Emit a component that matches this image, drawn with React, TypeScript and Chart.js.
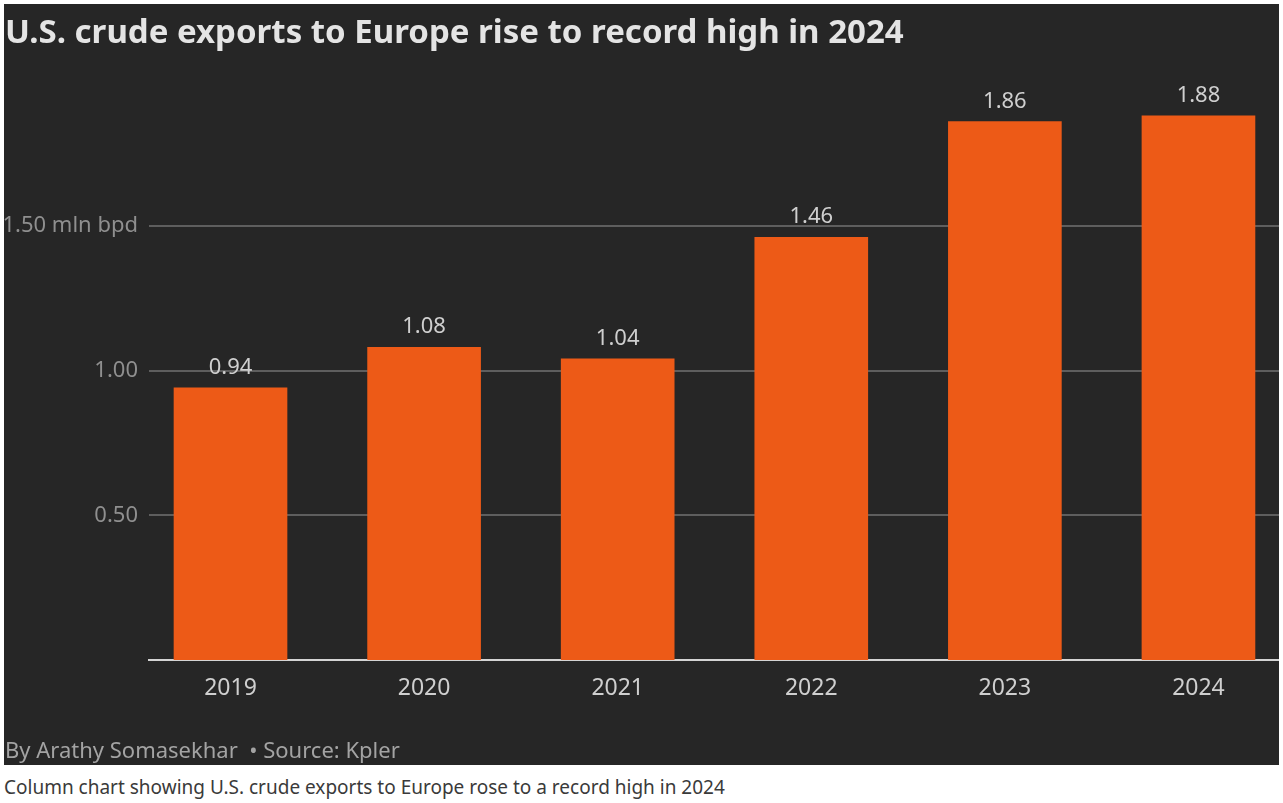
import React, { useEffect, useRef } from "react";
import { Chart, registerables } from "chart.js";

Chart.register(...registerables);

const years = ["2019", "2020", "2021", "2022", "2023", "2024"];
const exportsMlnBpd = [0.94, 1.08, 1.04, 1.46, 1.86, 1.88];
const yTickValues = [0.5, 1.0, 1.5];
const yTickLabels = ["0.50", "1.00", "1.50 mln bpd"];

const titleText = "U.S. crude exports to Europe rise to record high in 2024";
const footerText = "By Arathy Somasekhar\u00a0 \u2022 Source: Kpler";
const captionText =
  "Column chart showing U.S. crude exports to Europe rose to a record high in 2024";

const FONT = "'Noto Sans', 'DejaVu Sans', sans-serif";
const BG = "#262626";
const BAR = "#ed5a17";

const valueLabels = {
  id: "valueLabels",
  afterDatasetsDraw(chart: any) {
    const ctx = chart.ctx;
    const meta = chart.getDatasetMeta(0);
    ctx.save();
    ctx.font = `400 22px ${FONT}`;
    ctx.fillStyle = "#cfcfcf";
    ctx.textAlign = "center";
    ctx.textBaseline = "alphabetic";
    meta.data.forEach((bar: any, i: number) => {
      ctx.fillText(exportsMlnBpd[i].toFixed(2), bar.x, bar.y - 14);
    });
    ctx.restore();
  },
};

export default function App() {
  const canvasRef = useRef<HTMLCanvasElement | null>(null);

  useEffect(() => {
    const canvas = canvasRef.current;
    if (!canvas) return;
    const chart = new Chart(canvas, {
      type: "bar",
      data: {
        datasets: [
          {
            data: exportsMlnBpd.map((v, i) => ({ x: i, y: v })),
            backgroundColor: BAR,
            borderWidth: 0,
            barThickness: 113,
          },
        ],
      },
      options: {
        responsive: false,
        animation: false,
        layout: { padding: { top: 77, right: 0, bottom: 0, left: 0 } },
        plugins: {
          legend: { display: false },
          tooltip: { enabled: false },
          title: { display: false },
        },
        scales: {
          x: {
            type: "linear",
            min: -0.421,
            max: 5.416,
            bounds: "data",
            offset: false,
            grid: { display: false, drawTicks: false, offset: false },
            border: { display: true, color: "#d4d4d4", width: 2 },
            afterBuildTicks: (scale: any) => {
              scale.ticks = years.map((_, i) => ({ value: i }));
            },
            afterDataLimits: (scale: any) => {
              scale.min = -0.421;
              scale.max = 5.416;
            },
            afterFit: (scale: any) => {
              scale.height = 105;
            },
            ticks: {
              color: "#cfcfcf",
              font: { family: FONT, size: 23 },
              padding: 15,
              autoSkip: false,
              maxRotation: 0,
              includeBounds: false,
              callback: (v: any) => years[Math.round(Number(v))] ?? "",
            },
          },
          y: {
            type: "linear",
            min: 0,
            max: 2.0,
            grid: { color: "#5e5e5e", lineWidth: 2, drawTicks: false },
            border: { display: false },
            afterBuildTicks: (scale: any) => {
              scale.ticks = yTickValues.map((v) => ({ value: v }));
            },
            afterFit: (scale: any) => {
              scale.width = 145;
            },
            ticks: {
              color: "#8f8f8f",
              font: { family: FONT, size: 22 },
              padding: 11,
              callback: (v: any) => {
                const idx = yTickValues.findIndex((t) => Math.abs(t - Number(v)) < 1e-6);
                return idx >= 0 ? yTickLabels[idx] : "";
              },
            },
          },
        },
      },
      plugins: [valueLabels],
    });
    return () => chart.destroy();
  }, []);

  return (
    <div style={{ position: "absolute", left: 0, top: 0, width: 1283, height: 803 }}>
      <div
        style={{
          position: "absolute",
          left: 4,
          top: 4,
          width: 1275,
          height: 761,
          background: BG,
          overflow: "hidden",
        }}
      >
        <canvas
          ref={canvasRef}
          width={1275}
          height={761}
          style={{ position: "absolute", left: 0, top: 0, width: 1275, height: 761 }}
        />
        <div
          style={{
            position: "absolute",
            left: 1,
            top: 9.5,
            fontFamily: FONT,
            fontWeight: 700,
            fontSize: 33,
            lineHeight: "33px",
            color: "#e4e4e4",
            whiteSpace: "nowrap",
          }}
        >
          {titleText}
        </div>
        <div
          style={{
            position: "absolute",
            left: 1,
            top: 734,
            fontFamily: FONT,
            fontSize: 22,
            lineHeight: "22px",
            color: "#a3a3a3",
            whiteSpace: "nowrap",
          }}
        >
          {footerText}
        </div>
      </div>
      <div
        style={{
          position: "absolute",
          left: 4,
          top: 778,
          fontFamily: FONT,
          fontSize: 19,
          lineHeight: "19px",
          color: "#3a3a3a",
          whiteSpace: "nowrap",
        }}
      >
        {captionText}
      </div>
    </div>
  );
}
